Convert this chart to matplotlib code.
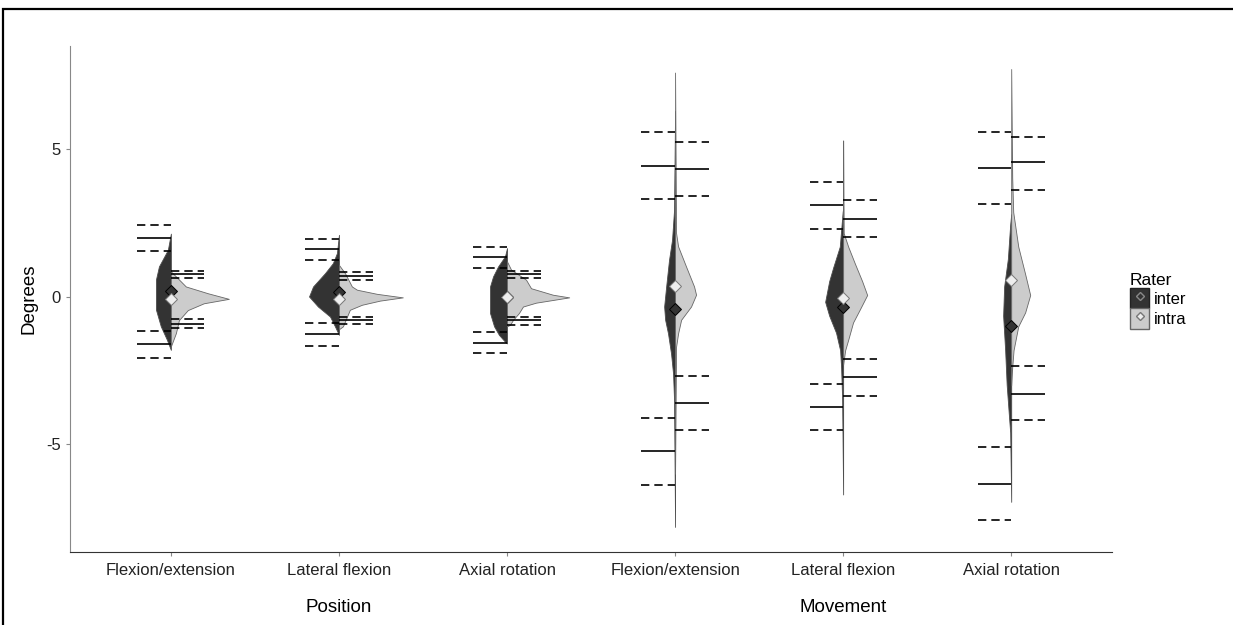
import matplotlib
matplotlib.use('Agg')
import matplotlib.pyplot as plt
from matplotlib.patches import Patch, Rectangle
from matplotlib.lines import Line2D
from matplotlib.legend_handler import HandlerTuple
import matplotlib.transforms as mtransforms

plt.rcParams['font.family'] = ['Liberation Sans', 'DejaVu Sans']

# categories (x order)
categories = ['Flexion/extension', 'Lateral flexion', 'Axial rotation',
              'Flexion/extension', 'Lateral flexion', 'Axial rotation']
groups = ['Position', 'Movement']
raters = ['inter', 'intra']

# mean differences
inter_mean = [0.20, 0.15, -0.02, -0.41, -0.33, -0.99]
intra_mean = [-0.08, -0.07, 0.00, 0.35, -0.05, 0.57]

# limits of agreement and their confidence intervals
inter_upper = [2.00, 1.62, 1.35, 4.43, 3.10, 4.36]
inter_upper_hi = [2.44, 1.97, 1.68, 5.58, 3.89, 5.60]
inter_upper_lo = [1.54, 1.25, 0.97, 3.32, 2.31, 3.14]
inter_lower = [-1.60, -1.27, -1.55, -5.22, -3.74, -6.33]
inter_lower_hi = [-1.15, -0.89, -1.19, -4.11, -2.94, -5.08]
inter_lower_lo = [-2.06, -1.66, -1.91, -6.37, -4.53, -7.56]

intra_upper = [0.76, 0.69, 0.78, 4.32, 2.64, 4.56]
intra_upper_hi = [0.89, 0.84, 0.89, 5.23, 3.28, 5.43]
intra_upper_lo = [0.62, 0.58, 0.65, 3.40, 2.04, 3.62]
intra_lower = [-0.91, -0.78, -0.78, -3.59, -2.72, -3.29]
intra_lower_hi = [-0.75, -0.67, -0.67, -2.70, -2.11, -2.36]
intra_lower_lo = [-1.06, -0.92, -0.94, -4.51, -3.35, -4.19]

# half-violin profiles (y level, half width)
inter_violin_y = [
    [2.14, 1.59, 1.03, 0.58, 0.0, -0.43, -1.0, -1.45, -1.80],
    [2.10, 1.48, 1.14, 0.80, 0.35, 0.01, -0.33, -0.67, -1.0, -1.29],
    [1.65, 1.37, 1.03, 0.69, 0.35, -0.10, -0.55, -1.0, -1.29, -1.52, -1.58],
    [6.3, 2.95, 1.93, 1.25, 0.35, -0.33, -0.78, -1.24, -1.92, -2.6, -3.5, -7.8],
    [3.0, 2.87, 1.70, 1.0, 0.53, -0.17, -0.64, -1.22, -1.81, -2.39, -3.45, -6.7],
    [2.8, 2.45, 1.28, 0.35, -0.64, -1.81, -2.98, -4.15, -4.6, -6.95],
]
inter_violin_w = [
    [0, .018, .071, .089, .089, .089, .060, .024, 0],
    [0, .012, .036, .083, .154, .178, .125, .053, .024, 0],
    [0, .012, .053, .083, .101, .101, .101, .077, .048, .012, 0],
    [0, .006, .018, .036, .053, .065, .059, .042, .024, .012, .006, 0],
    [0, .003, .020, .059, .083, .107, .083, .042, .018, .012, .006, 0],
    [0, .006, .020, .042, .048, .036, .027, .012, .006, 0],
]
intra_violin_y = [
    [0.86, 0.69, 0.35, 0.12, -0.07, -0.22, -0.45, -0.79, -1.23, -1.68],
    [1.08, 0.80, 0.35, 0.24, 0.10, -0.02, -0.13, -0.27, -0.44, -0.67, -1.0, -1.10],
    [1.2, 0.92, 0.58, 0.29, 0.07, -0.02, -0.2, -0.33, -0.55, -0.78, -0.95, -1.0],
    [7.6, 2.16, 1.71, 1.03, 0.35, 0.07, -0.33, -0.78, -1.24, -1.69, -6.0],
    [5.3, 2.16, 1.70, 1.11, 0.53, 0.06, -0.41, -0.87, -1.46, -1.81, -2.3],
    [7.72, 4.04, 2.87, 1.70, 0.77, 0.06, -0.53, -1.0, -1.81, -2.39, -3.0],
]
intra_violin_w = [
    [0, .030, .089, .220, .345, .196, .101, .048, .030, 0],
    [0, .036, .077, .107, .226, .380, .244, .137, .065, .048, .024, 0],
    [0, .024, .113, .143, .273, .370, .172, .095, .071, .036, .018, 0],
    [0, .006, .018, .065, .113, .125, .095, .036, .018, .006, 0],
    [0, .003, .030, .071, .113, .143, .101, .059, .030, .012, 0],
    [0, .006, .012, .042, .083, .113, .083, .042, .014, .006, 0],
]

dark = '#333333'
light = '#cccccc'
seg = 0.2
dash = (0, (5, 3))

fig = plt.figure(figsize=(12.33, 6.25), dpi=100)
ax = fig.add_axes([0.0568, 0.1168, 0.8451, 0.8096])

xs = list(range(1, len(categories) + 1))
for i, x in enumerate(xs):
    # half violins
    ax.fill_betweenx(inter_violin_y[i], [x - w for w in inter_violin_w[i]], x,
                     facecolor=dark, edgecolor='#4d4d4d', linewidth=0.6, zorder=2)
    ax.fill_betweenx(intra_violin_y[i], x, [x + w for w in intra_violin_w[i]],
                     facecolor=light, edgecolor='#666666', linewidth=0.6, zorder=2)

    # inter limits (left side)
    ax.hlines([inter_upper[i], inter_lower[i]], x - seg, x, colors='black', lw=1.2, zorder=3)
    ax.hlines([inter_upper_hi[i], inter_upper_lo[i], inter_lower_hi[i], inter_lower_lo[i]],
              x - seg, x, colors='black', lw=1.2, linestyles=[dash], zorder=3)
    # intra limits (right side)
    ax.hlines([intra_upper[i], intra_lower[i]], x, x + seg, colors='black', lw=1.2, zorder=3)
    ax.hlines([intra_upper_hi[i], intra_upper_lo[i], intra_lower_hi[i], intra_lower_lo[i]],
              x, x + seg, colors='black', lw=1.2, linestyles=[dash], zorder=3)

# means
ax.plot(xs, inter_mean, ls='', marker='D', ms=6, mfc=dark, mec='black', mew=0.7, zorder=4)
ax.plot(xs, intra_mean, ls='', marker='D', ms=6, mfc='#eeeeee', mec='#777777', mew=0.7, zorder=4)

ax.set_xlim(0.4, 6.6)
ax.set_ylim(-8.65, 8.5)
ax.set_yticks([-5, 0, 5])
ax.set_yticklabels(['-5', '0', '5'])
ax.set_xticks(xs)
ax.set_xticklabels(categories)
ax.tick_params(axis='both', labelsize=12, length=3, color='#888888', labelcolor='#222222')
ax.tick_params(axis='x', pad=5)
ax.set_ylabel('Degrees', fontsize=13.5, labelpad=6)
for s in ['top', 'right']:
    ax.spines[s].set_visible(False)
ax.spines['left'].set_color('#888888')
ax.spines['bottom'].set_color('#333333')

# group labels under the category ticks
trans = mtransforms.blended_transform_factory(ax.transData, ax.transAxes)
ax.text(2, -0.109, groups[0], transform=trans, ha='center', va='center', fontsize=13.5)
ax.text(5, -0.109, groups[1], transform=trans, ha='center', va='center', fontsize=13.5)

# legend
handles = [
    (Patch(facecolor=dark, edgecolor='#222222'),
     Line2D([], [], ls='', marker='D', ms=4.5, mfc=dark, mec='#888888')),
    (Patch(facecolor=light, edgecolor='#666666'),
     Line2D([], [], ls='', marker='D', ms=4.5, mfc='#eeeeee', mec='#777777')),
]
leg = fig.legend(handles, raters, title='Rater', loc='upper left',
                 bbox_to_anchor=(1130 / 1233, 1 - 273 / 625), bbox_transform=fig.transFigure,
                 frameon=False, fontsize=12, title_fontsize=12.5,
                 handler_map={tuple: HandlerTuple(ndivide=1, pad=0)},
                 handlelength=1.15, handleheight=1.5, labelspacing=0.0,
                 handletextpad=0.3, borderpad=0, borderaxespad=0, alignment='left')

# border around the figure
fig.patches.append(Rectangle((3 / 1233, -0.05), 1.1, 1 - 9 / 625 + 0.05, transform=fig.transFigure,
                             fill=False, edgecolor='black', linewidth=1.6, zorder=10))

fig.savefig('out.png', dpi=100)
